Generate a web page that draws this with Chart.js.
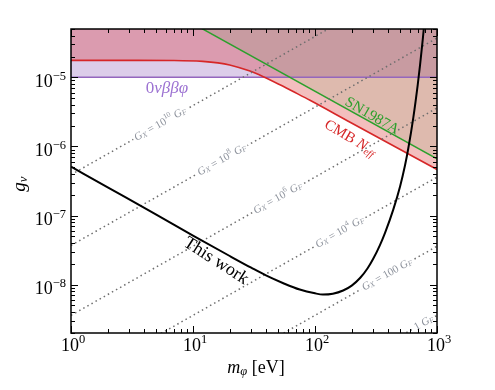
<!DOCTYPE html>
<html>
<head>
<meta charset="utf-8">
<script src="https://cdn.jsdelivr.net/npm/chart.js@4.4.1/dist/chart.umd.min.js"></script>
<style>
  html, body { margin: 0; padding: 0; background: #fff; }
  #wrap { width: 495px; height: 390px; }
</style>
</head>
<body>
<div id="wrap"><canvas id="c"></canvas></div>
<script>
// values
const massThis = [1, 2, 5, 10, 20, 30, 40, 55, 75, 100, 116, 140, 170, 200, 235, 270, 300, 340, 375, 438, 498, 547, 582, 640, 695, 726, 764, 800];
const gThis = [5.1e-7, 2.56e-7, 1.03e-7, 5.13e-8, 2.6e-8, 1.76e-8, 1.35e-8, 1.05e-8, 8.5e-9, 7.5e-9, 7.21e-9, 7.41e-9, 8.24e-9, 9.7e-9, 1.26e-8, 1.73e-8, 2.37e-8, 3.71e-8, 5.62e-8, 1.22e-7, 2.64e-7, 5.35e-7, 9.4e-7, 2.64e-6, 7.8e-6, 1.5e-5, 3.5e-5, 8.1e-5];

const massCmb = [1, 3, 7, 12, 16, 20, 29.3, 37.7, 51.6, 70.8, 91, 194, 1000];
const gCmb = [1.76e-5, 1.76e-5, 1.75e-5, 1.7e-5, 1.62e-5, 1.51e-5, 1.23e-5, 1.02e-5, 7.8e-6, 5.86e-6, 4.65e-6, 2.24e-6, 4.65e-7];

const massSn = [10, 1000];
const gSn = [5.98e-5, 6.6e-7];

const massBb = [1, 1000];
const gBb = [1e-5, 1e-5];

// dotted G_X lines: value at m = 1 eV and m = 1000 eV
const gxExp = ['10', '8', '6', '4', null, null];
const gxText = ['10', '8', '6', '4', '100', '1'];
const gxAtOne = [3.9e-7, 3.7e-8, 3.6e-9, 3.6e-10, 3.6e-11, 3.6e-12];
const gxAtThousand = [3.9e-4, 3.7e-5, 3.6e-6, 3.6e-7, 3.6e-8, 3.6e-9];
const gxLabelMass = [5.4, 17.3, 49.7, 160, 390, 780];

const xTickExps = [0, 1, 2, 3];
const yTickExps = [-8, -7, -6, -5];

const pts = (xs, ys) => xs.map((x, i) => ({ x: x, y: ys[i] }));

const datasets = [];
datasets.push({
  label: 'This work', data: pts(massThis, gThis),
  borderColor: '#000', borderWidth: 2, pointRadius: 0, fill: false,
  cubicInterpolationMode: 'monotone'
});
gxAtOne.forEach((v, i) => {
  datasets.push({
    label: 'gx' + i, data: pts([1, 1000], [v, gxAtThousand[i]]),
    borderColor: '#6e6e6e', borderWidth: 1.5, borderDash: [1.5, 3.2],
    pointRadius: 0, fill: false
  });
});
datasets.push({
  label: 'SN1987A', data: pts(massSn, gSn),
  borderColor: '#2ca02c', borderWidth: 1.5, pointRadius: 0,
  fill: 'end', backgroundColor: 'rgba(44,160,44,0.1)'
});
datasets.push({
  label: 'CMB', data: pts(massCmb, gCmb),
  borderColor: '#d62728', borderWidth: 1.6, pointRadius: 0,
  fill: 'end', backgroundColor: 'rgba(214,39,40,0.3)',
  cubicInterpolationMode: 'monotone'
});
datasets.push({
  label: '0vbb', data: pts(massBb, gBb),
  borderColor: '#9467bd', borderWidth: 1.5, pointRadius: 0,
  fill: 'end', backgroundColor: 'rgba(148,103,189,0.33)'
});

const SERIF = '"Liberation Serif", "DejaVu Serif", serif';

// draws a run of text pieces, centred at x,y and turned by angle
function drawRich(ctx, segs, x, y, angle, color, bg) {
  ctx.save();
  let w = 0;
  segs.forEach(s => {
    ctx.font = (s.italic ? 'italic ' : '') + s.size + 'px ' + SERIF;
    s.w = ctx.measureText(s.t).width;
    w += s.w;
  });
  ctx.translate(x, y);
  ctx.rotate(angle);
  if (bg) {
    ctx.fillStyle = bg;
    ctx.fillRect(-w / 2 - 2, -6, w + 4, 12);
  }
  ctx.fillStyle = color;
  ctx.textBaseline = 'middle';
  ctx.textAlign = 'left';
  let cx = -w / 2;
  segs.forEach(s => {
    ctx.font = (s.italic ? 'italic ' : '') + s.size + 'px ' + SERIF;
    ctx.fillText(s.t, cx, s.dy || 0);
    cx += s.w;
  });
  ctx.restore();
}

const decorPlugin = {
  id: 'decor',
  afterDraw(chart) {
    const ctx = chart.ctx;
    const a = chart.chartArea;
    const xs = chart.scales.x, ys = chart.scales.y;

    // labels sitting on the dotted lines
    gxAtOne.forEach((v, i) => {
      const x1 = xs.getPixelForValue(1), y1 = ys.getPixelForValue(v);
      const x2 = xs.getPixelForValue(1000), y2 = ys.getPixelForValue(gxAtThousand[i]);
      const px = xs.getPixelForValue(gxLabelMass[i]);
      const py = y1 + (y2 - y1) * (px - x1) / (x2 - x1);
      const ang = Math.atan2(y2 - y1, x2 - x1);
      let segs;
      if (gxText[i] === '1') {
        segs = [{ t: '1 ', size: 11 }, { t: 'G', size: 11, italic: true }, { t: 'F', size: 7.5, italic: true, dy: 2 }];
      } else if (gxExp[i]) {
        segs = [{ t: 'G', size: 11, italic: true }, { t: 'X', size: 7.5, italic: true, dy: 2 },
                { t: ' = 10', size: 11 }, { t: gxExp[i], size: 7.5, dy: -4 },
                { t: ' G', size: 11, italic: true }, { t: 'F', size: 7.5, italic: true, dy: 2 }];
      } else {
        segs = [{ t: 'G', size: 11, italic: true }, { t: 'X', size: 7.5, italic: true, dy: 2 },
                { t: ' = ' + gxText[i] + ' ', size: 11 },
                { t: 'G', size: 11, italic: true }, { t: 'F', size: 7.5, italic: true, dy: 2 }];
      }
      drawRich(ctx, segs, px, py, ang, '#8d929c', '#fff');
    });

    // curve labels
    drawRich(ctx, [{ t: '0', size: 17 }, { t: 'νββφ', size: 17, italic: true }],
      167, 89, 0, '#9c72d2');
    drawRich(ctx, [{ t: 'SN1987A', size: 15 }], 372, 116, 0.53, '#2ca02c');
    drawRich(ctx, [{ t: 'CMB ', size: 15 }, { t: 'N', size: 15, italic: true }, { t: 'eff', size: 10, italic: true, dy: 4 }],
      350, 138, 0.53, '#d62728');
    drawRich(ctx, [{ t: 'This work', size: 18 }], 216, 261, 0.57, '#000');

    // frame
    ctx.save();
    ctx.strokeStyle = '#000';
    ctx.lineWidth = 1.5;
    ctx.strokeRect(a.left, a.top, a.right - a.left, a.bottom - a.top);

    // inward ticks on all four sides
    ctx.lineWidth = 1;
    ctx.beginPath();
    for (let e = 0; e <= 3; e++) {
      for (let k = 1; k <= 9; k++) {
        const v = k * Math.pow(10, e);
        if (v > 1000) break;
        const p = Math.round(xs.getPixelForValue(v)) + 0.5;
        const len = k === 1 ? 7 : 4;
        ctx.moveTo(p, a.bottom); ctx.lineTo(p, a.bottom - len);
        ctx.moveTo(p, a.top); ctx.lineTo(p, a.top + len);
      }
    }
    for (let e = -9; e <= -5; e++) {
      for (let k = 1; k <= 9; k++) {
        const v = k * Math.pow(10, e);
        if (v < ys.min || v > ys.max) continue;
        const p = Math.round(ys.getPixelForValue(v)) + 0.5;
        const len = k === 1 ? 7 : 4;
        ctx.moveTo(a.left, p); ctx.lineTo(a.left + len, p);
        ctx.moveTo(a.right, p); ctx.lineTo(a.right - len, p);
      }
    }
    ctx.stroke();
    ctx.restore();

    // tick labels
    xTickExps.forEach(e => {
      const p = xs.getPixelForValue(Math.pow(10, e));
      drawRich(ctx, [{ t: '10', size: 18 }, { t: String(e), size: 12.5, dy: -6 }], p + 2, a.bottom + 13, 0, '#000');
    });
    yTickExps.forEach(e => {
      const p = ys.getPixelForValue(Math.pow(10, e));
      const segs = [{ t: '10', size: 18 }, { t: '−' + String(-e), size: 12.5, dy: -6 }];
      ctx.save();
      let w = 0;
      segs.forEach(s => { ctx.font = s.size + 'px ' + SERIF; w += ctx.measureText(s.t).width; });
      ctx.restore();
      drawRich(ctx, segs, a.left - 5 - w / 2, p + 5, 0, '#000');
    });

    // axis titles
    drawRich(ctx, [{ t: 'm', size: 18, italic: true }, { t: 'φ', size: 12.5, italic: true, dy: 4 }, { t: ' [eV]', size: 18 }],
      256, 368, 0, '#000');
    drawRich(ctx, [{ t: 'g', size: 19, italic: true }, { t: 'ν', size: 13, italic: true, dy: 4 }],
      20, 184, -Math.PI / 2, '#000');
  }
};

new Chart(document.getElementById('c').getContext('2d'), {
  type: 'line',
  data: { datasets: datasets },
  options: {
    responsive: true,
    maintainAspectRatio: false,
    animation: false,
    layout: { padding: { left: 71, right: 58, top: 29, bottom: 57 } },
    plugins: {
      legend: { display: false },
      tooltip: { enabled: false },
      filler: { drawTime: 'beforeDatasetsDraw' }
    },
    scales: {
      x: { type: 'logarithmic', min: 1, max: 1000, display: false },
      y: { type: 'logarithmic', min: 2e-9, max: 5e-5, display: false }
    }
  },
  plugins: [decorPlugin]
});
</script>
</body>
</html>
